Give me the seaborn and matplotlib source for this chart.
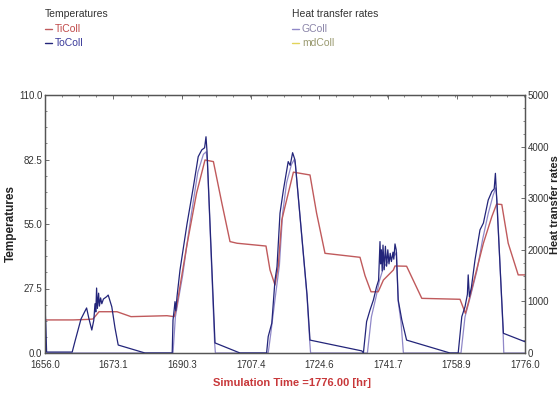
import matplotlib
matplotlib.use("Agg")
import matplotlib.pyplot as plt
import seaborn as sns
import pandas as pd
from matplotlib.ticker import FixedLocator, AutoMinorLocator
from matplotlib.lines import Line2D

# --- collector inlet temperature (TiColl), degC
ti_time = [1656.0, 1663.0, 1666.5, 1668.0, 1669.5, 1674.0, 1677.5, 1686.5, 1688.3,
           1688.9, 1691.4, 1693.9, 1696.0, 1698.1, 1700.2, 1702.25, 1704.0, 1711.25,
           1712.25, 1713.5, 1714.3, 1715.2, 1716.0, 1718.1, 1722.25, 1723.9, 1726.0,
           1734.75, 1736.0, 1737.5, 1739.3, 1740.6, 1743.1, 1743.5, 1746.4, 1750.2,
           1759.75, 1761.1, 1761.8, 1763.9, 1765.6, 1767.7, 1768.9, 1770.2, 1771.8,
           1774.3, 1776.0]
ti_vals = [14.1, 14.1, 14.3, 14.5, 17.6, 17.6, 15.5, 15.9, 15.5,
           19.7, 45.3, 68.2, 82.3, 81.6, 64.0, 47.5, 46.8, 45.6,
           35.4, 29.0, 36.8, 56.7, 62.4, 77.1, 75.9, 59.6, 42.5,
           40.8, 33.0, 26.1, 26.1, 31.1, 35.4, 37.1, 37.0, 23.3,
           22.9, 16.9, 21.2, 35.4, 46.8, 58.1, 63.5, 63.3, 46.8,
           33.3, 33.3]

# --- collector outlet temperature (ToColl), degC
to_time = [1656.0, 1656.2, 1656.4, 1662.8, 1663.5, 1665.0, 1666.4, 1667.0, 1667.7,
           1668.2, 1668.5, 1668.7, 1668.9, 1669.1, 1669.4, 1669.6, 1669.9, 1670.2,
           1670.6, 1671.4, 1671.8, 1672.7, 1673.5, 1674.3, 1681.0, 1687.8, 1688.0,
           1688.3, 1688.5, 1688.7, 1689.0, 1689.75, 1691.5, 1693.1, 1694.3, 1695.2,
           1695.9, 1696.25, 1696.5, 1698.5, 1704.75, 1711.4, 1711.8, 1712.7, 1713.5,
           1714.0, 1714.75, 1715.6, 1716.8, 1717.3, 1717.9, 1718.5, 1721.5, 1722.25,
           1735.2, 1735.6, 1736.4, 1737.25, 1738.1, 1738.9, 1739.4, 1739.75, 1739.9,
           1740.1, 1740.3, 1740.5, 1740.8, 1741.1, 1741.4, 1741.7, 1742.0, 1742.3,
           1742.6, 1743.0, 1743.2, 1743.5, 1743.8, 1744.3, 1745.2, 1746.4, 1757.25,
           1759.3, 1760.2, 1761.0, 1761.6, 1761.8, 1762.1, 1762.6, 1763.5, 1764.75,
           1765.6, 1766.8, 1767.7, 1768.3, 1768.6, 1768.9, 1770.6, 1776.0]
to_vals = [19.5, 12.0, 0.4, 0.4, 5.0, 14.5, 19.2, 14.5, 9.8,
           14.0, 21.0, 17.5, 27.7, 19.0, 25.5, 20.0, 23.5, 21.0,
           23.0, 24.0, 24.7, 19.7, 10.7, 3.4, 0.0, 0.0, 14.0,
           18.5, 21.9, 18.0, 24.0, 35.4, 55.0, 70.9, 83.7, 86.6,
           87.5, 92.2, 86.0, 4.3, 0.0, 0.0, 7.0, 12.7, 31.1,
           36.8, 59.6, 69.5, 81.6, 80.0, 85.4, 82.3, 25.0, 5.5,
           0.9, 0.0, 13.4, 18.3, 22.6, 28.3, 31.0, 47.5, 38.0,
           44.0, 35.0, 46.0, 35.5, 45.5, 37.0, 44.0, 38.0, 42.5,
           39.0, 43.0, 40.0, 46.5, 44.0, 22.6, 14.1, 5.5, 0.0,
           0.0, 15.5, 19.7, 25.0, 33.3, 24.0, 28.0, 39.7, 52.5,
           55.4, 65.2, 68.8, 70.0, 76.6, 66.7, 8.4, 4.8]

# --- useful energy gain of the collector (GColl), W
g_time = [1656.0, 1688.0, 1688.6, 1690.4, 1692.4, 1694.2, 1695.6, 1696.3, 1696.6,
          1698.4, 1698.6, 1711.8, 1712.4, 1713.6, 1714.6, 1715.4, 1716.4, 1717.6,
          1718.3, 1718.6, 1721.5, 1722.2, 1722.4, 1736.6, 1737.6, 1738.8, 1739.6,
          1740.6, 1742.0, 1743.5, 1743.9, 1744.3, 1745.0, 1745.6, 1760.0, 1761.0,
          1762.2, 1764.0, 1765.4, 1766.8, 1768.0, 1768.7, 1769.0, 1770.5, 1770.7,
          1776.0]
g_vals = [0, 0, 700, 1500, 2600, 3500, 3850, 3900, 3700,
          200, 0, 0, 350, 1100, 1700, 2700, 3300, 3650,
          3750, 3650, 1100, 200, 0, 0, 700, 1100, 1400,
          1650, 1800, 1900, 1950, 1000, 600, 0, 0, 700,
          1050, 1600, 2200, 2700, 3050, 3200, 2950, 450, 0,
          0]

x_ticks = [1656.0, 1673.1, 1690.3, 1707.4, 1724.6, 1741.7, 1758.9, 1776.0]
t_ticks = [0.0, 27.5, 55.0, 82.5, 110.0]
q_ticks = [0, 1000, 2000, 3000, 4000, 5000]

RED = "#c05a5c"
NAVY = "#23257a"
PURPLE = "#9088c8"
YELLOW = "#e2d45a"
SPINE = "#555555"
TICKTXT = "#333333"

sns.set_style("white")
plt.rcParams["font.family"] = ["Liberation Sans Narrow", "Liberation Sans", "DejaVu Sans"]

fig = plt.figure(figsize=(5.6, 3.94), dpi=100)
ax = fig.add_axes([45 / 560, 1 - 353 / 394, 480 / 560, 258 / 394])
ax2 = ax.twinx()

ti_df = pd.DataFrame({"time": ti_time, "TiColl": ti_vals})
to_df = pd.DataFrame({"time": to_time, "ToColl": to_vals})
g_df = pd.DataFrame({"time": g_time, "GColl": g_vals})

sns.lineplot(data=g_df, x="time", y="GColl", ax=ax2, color=PURPLE, lw=0.9,
             estimator=None, sort=False, legend=False)
sns.lineplot(data=ti_df, x="time", y="TiColl", ax=ax, color=RED, lw=1.0,
             estimator=None, sort=False, legend=False)
sns.lineplot(data=to_df, x="time", y="ToColl", ax=ax, color=NAVY, lw=0.9,
             estimator=None, sort=False, legend=False)

# temperatures drawn above the heat-rate trace
ax.set_zorder(ax2.get_zorder() + 1)
ax.patch.set_visible(False)

ax.set_xlim(1656.0, 1776.0)
ax.set_ylim(0, 110)
ax2.set_ylim(0, 5000)

ax.xaxis.set_major_locator(FixedLocator(x_ticks))
ax.set_xticklabels([f"{v:.1f}" for v in x_ticks])
ax.yaxis.set_major_locator(FixedLocator(t_ticks))
ax.set_yticklabels([f"{v:.1f}" for v in t_ticks])
ax2.yaxis.set_major_locator(FixedLocator(q_ticks))
ax2.set_yticklabels([str(v) for v in q_ticks])
for a in (ax.xaxis, ax.yaxis, ax2.yaxis):
    a.set_minor_locator(AutoMinorLocator(4))

ax.tick_params(axis="both", which="major", direction="in", length=3, width=0.6,
               color=SPINE, labelsize=7, labelcolor=TICKTXT, pad=2,
               top=True)
ax.tick_params(axis="x", which="major", pad=5)
ax.tick_params(axis="both", which="minor", direction="in", length=1.5, width=0.5,
               color=SPINE, top=True)
ax2.tick_params(axis="y", which="major", direction="in", length=3, width=0.6,
                color=SPINE, labelsize=7, labelcolor=TICKTXT, pad=2)
ax2.tick_params(axis="y", which="minor", direction="in", length=1.5, width=0.5,
                color=SPINE)

for a in (ax, ax2):
    for s in a.spines.values():
        s.set_visible(True)
        s.set_color(SPINE)
        s.set_linewidth(0.9)

ax.set_xlabel("")
ax.set_ylabel("")
ax2.set_ylabel("")

fig.text(11 / 560, 1 - 224 / 394, "Temperatures", rotation=90, ha="center",
         va="center", fontsize=8.5, fontweight="bold", color="#222222",
         family=["Liberation Sans", "DejaVu Sans"])
fig.text(555.5 / 560, 1 - 205 / 394, "Heat transfer rates", rotation=90,
         ha="center", va="center", fontsize=8, fontweight="bold",
         color="#222222", family=["Liberation Sans", "DejaVu Sans"])
fig.text(292 / 560, 1 - 383 / 394, "Simulation Time =1776.00 [hr]", ha="center",
         va="center", fontsize=8, fontweight="bold", color="#c8383a")

# group captions above the plot
def legend_group(x0, title, entries):
    fig.text(x0 / 560, 1 - 14 / 394, title, ha="left", va="center",
             fontsize=7.5, color="#333333")
    for i, (name, lc, tc) in enumerate(entries):
        yy = 1 - (29 + 14 * i) / 394
        fig.add_artist(Line2D([x0 / 560, (x0 + 7) / 560], [yy, yy], color=lc,
                              lw=1.0, transform=fig.transFigure))
        fig.text((x0 + 10) / 560, yy, name, ha="left", va="center",
                 fontsize=7.5, color=tc)

legend_group(45, "Temperatures", [("TiColl", RED, "#c04a4a"),
                                   ("ToColl", NAVY, "#3a3a9a")])
legend_group(292, "Heat transfer rates", [("GColl", PURPLE, "#8a84a8"),
                                          ("mdColl", YELLOW, "#9a9a70")])

fig.savefig("out.png", dpi=100)
